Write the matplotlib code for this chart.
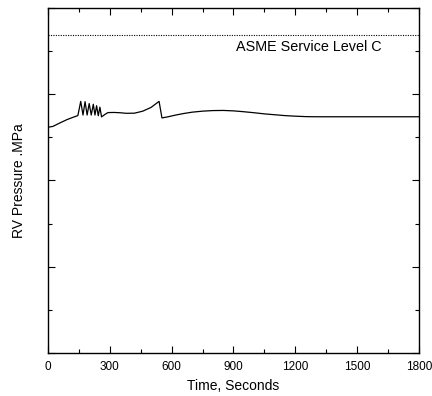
import matplotlib
matplotlib.use("Agg")
import matplotlib.pyplot as plt
from matplotlib.ticker import MultipleLocator, NullFormatter

plt.rcParams['font.family'] = ['Liberation Sans', 'DejaVu Sans']

# RV pressure history
time_s = [0, 24, 58, 92, 121, 145,
          159, 170, 180, 190, 200, 210, 220, 228, 236, 244, 252,
          260, 275, 291, 320, 350, 380, 420, 460, 500, 539, 553,
          580, 620, 660, 700, 750, 800, 850, 900, 950, 1000, 1050,
          1100, 1150, 1200, 1250, 1300, 1400, 1800]
pressure_mpa = [15.70, 15.76, 16.00, 16.23, 16.39, 16.51,
                17.50, 16.55, 17.48, 16.55, 17.35, 16.55, 17.30, 16.55, 17.20, 16.50, 17.10,
                16.42, 16.58, 16.72, 16.73, 16.71, 16.67, 16.68, 16.82, 17.08, 17.50, 16.35,
                16.42, 16.55, 16.66, 16.75, 16.82, 16.86, 16.87, 16.84, 16.78, 16.71, 16.63,
                16.57, 16.51, 16.47, 16.44, 16.43, 16.43, 16.43]

service_level_c = 22.1

fig = plt.figure(figsize=(4.32, 3.96), dpi=100)
ax = fig.add_axes([0.111, 0.1086, 0.859, 0.8714])

ax.plot(time_s, pressure_mpa, color='black', lw=0.9)
ax.axhline(service_level_c, color='black', lw=0.8, ls=(0, (1, 1.2)))
ax.text(912, 21.25, 'ASME Service Level C', fontsize=10.4,
        ha='left', va='center')

ax.set_xlim(0, 1800)
ax.set_ylim(0, 24)
ax.xaxis.set_major_locator(MultipleLocator(300))
ax.xaxis.set_minor_locator(MultipleLocator(150))
ax.yaxis.set_major_locator(MultipleLocator(6))
ax.yaxis.set_minor_locator(MultipleLocator(3))
ax.yaxis.set_major_formatter(NullFormatter())
ax.tick_params(which='both', direction='in', top=True, right=True, labelsize=8.5, width=0.8)
ax.tick_params(which='major', length=5)
ax.tick_params(which='minor', length=3)
ax.tick_params(axis='x', pad=6)
for s in ax.spines.values():
    s.set_linewidth(1.0)

ax.set_xlabel('Time, Seconds', fontsize=10, labelpad=4)
ax.set_ylabel('RV Pressure .MPa', fontsize=10, labelpad=12)

fig.savefig('out.png', dpi=100)
